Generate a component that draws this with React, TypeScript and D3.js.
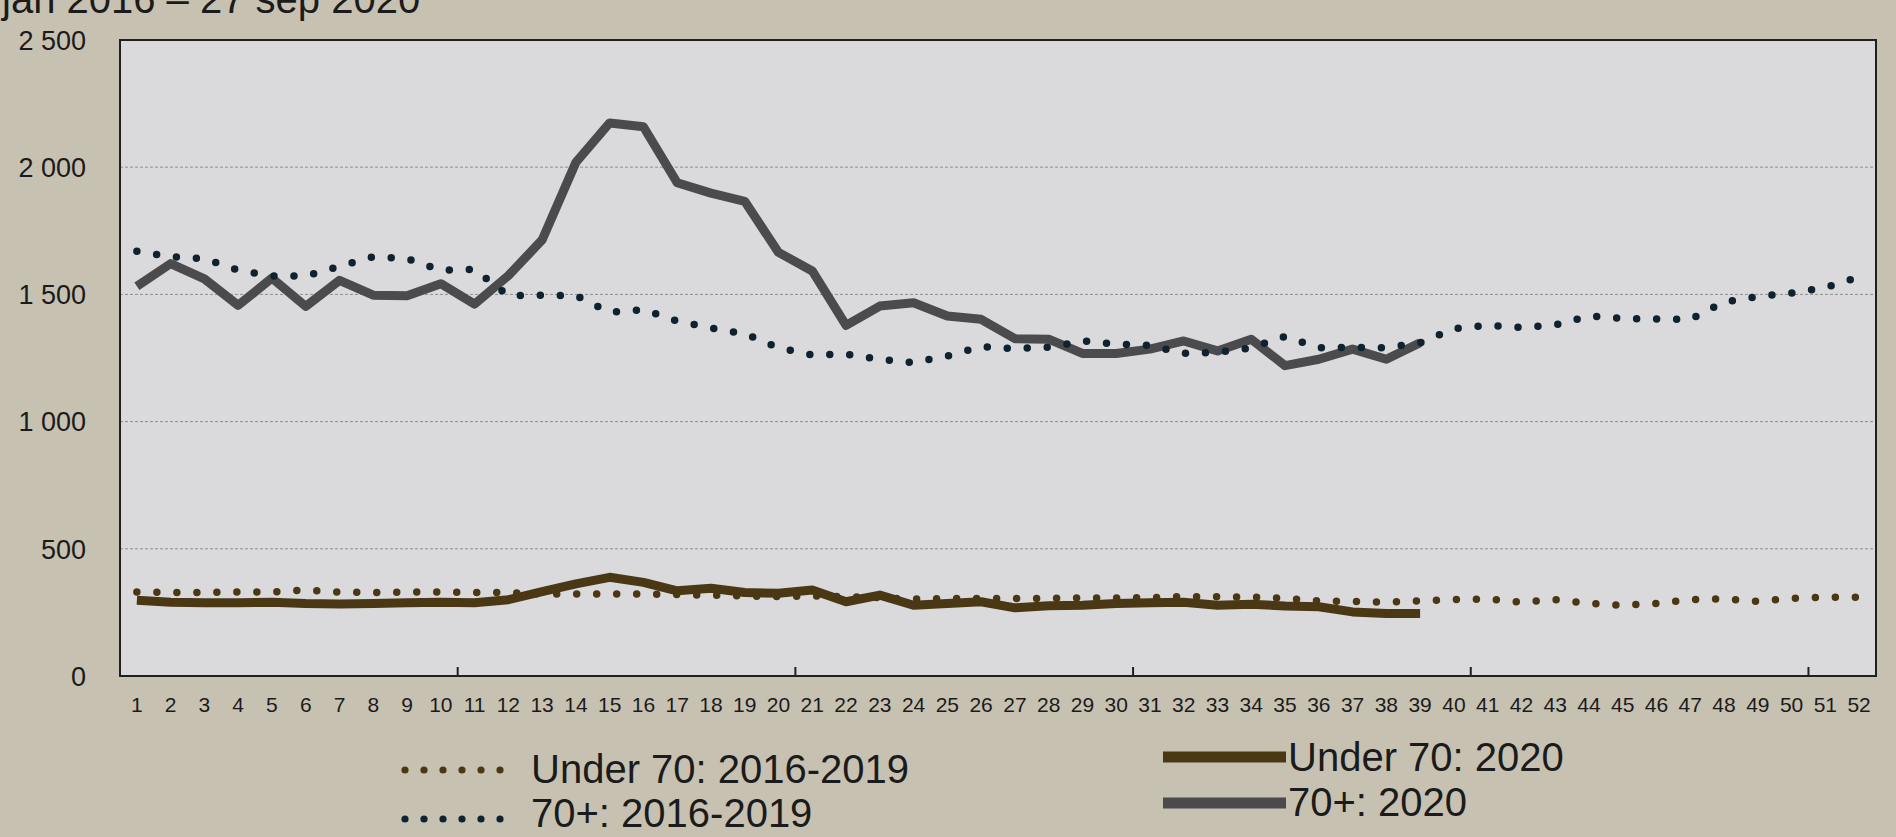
import React from "react";
import * as d3 from "d3";

// ---------- data (weekly deaths, weeks 1–52) ----------
const weeks = [
  1, 2, 3, 4, 5, 6, 7, 8, 9, 10, 11, 12, 13, 14, 15, 16, 17, 18, 19, 20, 21, 22, 23, 24, 25, 26,
  27, 28, 29, 30, 31, 32, 33, 34, 35, 36, 37, 38, 39, 40, 41, 42, 43, 44, 45, 46, 47, 48, 49, 50, 51, 52,
];

const under70Base = [
  330, 328, 328, 330, 330, 338, 330, 328, 330, 330, 328, 328, 322, 322, 322, 322, 320, 318, 315, 312, 315, 312, 308, 302, 305, 305,
  305, 305, 307, 307, 308, 312, 312, 310, 305, 295, 293, 290, 295, 300, 303, 290, 300, 285, 278, 285, 300, 303, 293, 305, 310, 310,
];

const over70Base = [
  1670, 1648, 1640, 1595, 1572, 1572, 1610, 1648, 1640, 1595, 1598, 1495, 1497, 1495, 1430, 1440, 1395, 1368, 1345, 1290, 1262, 1265, 1245, 1232, 1258, 1295,
  1287, 1292, 1317, 1304, 1300, 1268, 1272, 1290, 1335, 1290, 1292, 1290, 1310, 1365, 1378, 1370, 1380, 1415, 1405, 1403, 1402, 1470, 1492, 1505, 1527, 1568,
];

const under70_2020 = [
  298, 290, 288, 288, 290, 285, 283, 285, 288, 290, 288, 300, 332, 362, 388, 368, 335, 345, 328, 325, 338, 292, 318, 278, 285, 292,
  268, 276, 278, 285, 288, 290, 278, 282, 275, 272, 252, 246, 246,
];

const over70_2020 = [
  1532, 1621, 1561, 1457, 1564, 1453, 1555, 1497, 1495, 1542, 1462, 1574, 1714, 2019, 2174, 2159, 1939, 1898, 1866, 1665, 1592, 1378, 1454, 1467, 1415, 1402,
  1326, 1324, 1268, 1268, 1285, 1317, 1278, 1324, 1220, 1245, 1285, 1245, 1310,
];

const yTicks = [0, 500, 1000, 1500, 2000, 2500];
const yTickLabels = ["0", "500", "1 000", "1 500", "2 000", "2 500"];
const xTickBoundaries = [11, 21, 31, 41, 51];
const titleText = "jan 2016 – 27 sep 2020";
const legendLabels = ["Under 70: 2016-2019", "70+: 2016-2019", "Under 70: 2020", "70+: 2020"];

// ---------- layout ----------
const W = 1896;
const H = 837;
const M = { left: 120, right: 1876, top: 40, bottom: 676 };
const FONT = "'Liberation Sans', Arial, sans-serif";

const COL = {
  page: "#c7c1b2",
  plot: "#dadadc",
  grid: "#8e8e8e",
  frame: "#1f1f1f",
  text: "#1b1b1b",
  under70: "#4a3815",
  over70Dots: "#0f2230",
  over70Line: "#4b4b4d",
};

export default function App() {
  const x = d3.scaleBand<number>().domain(weeks).range([M.left, M.right]);
  const cx = (w: number) => (x(w) as number) + x.bandwidth() / 2;
  const y = d3.scaleLinear().domain([0, 2500]).range([M.bottom, M.top]);

  const line = d3
    .line<number>()
    .x((_, i) => cx(weeks[i]))
    .y((d) => y(d));

  const legendDots = [0, 1, 2, 3, 4, 5];

  return (
    <div style={{ position: "fixed", left: 0, top: 0, width: W, height: H }}>
      <svg width={W} height={H} viewBox={`0 0 ${W} ${H}`} style={{ display: "block", fontFamily: FONT }}>
        <rect x={0} y={0} width={W} height={H} fill={COL.page} />

        {/* title (its top is cut off in the photographed original) */}
        <text x={2} y={13} fontSize={40} fill={COL.text}>
          {titleText}
        </text>

        {/* plot background */}
        <rect x={M.left} y={M.top} width={M.right - M.left} height={M.bottom - M.top} fill={COL.plot} />

        {/* gridlines */}
        {yTicks
          .filter((t) => t > 0 && t < 2500)
          .map((t) => (
            <line
              key={t}
              x1={M.left}
              x2={M.right}
              y1={y(t)}
              y2={y(t)}
              stroke={COL.grid}
              strokeWidth={1}
              strokeDasharray="3 2"
            />
          ))}

        {/* y labels */}
        {yTicks.map((t, i) => (
          <text key={t} x={86} y={y(t)} dy="0.36em" textAnchor="end" fontSize={27} fill={COL.text}>
            {yTickLabels[i]}
          </text>
        ))}

        {/* series: solid 2020 lines */}
        <path d={line(over70_2020) || ""} fill="none" stroke={COL.over70Line} strokeWidth={9} strokeLinejoin="round" strokeLinecap="butt" />
        <path d={line(under70_2020) || ""} fill="none" stroke={COL.under70} strokeWidth={9} strokeLinejoin="round" strokeLinecap="butt" />

        {/* series: dotted 2016-2019 averages */}
        <path d={line(over70Base) || ""} fill="none" stroke={COL.over70Dots} strokeWidth={7.5} strokeLinecap="round" strokeDasharray="0 20" />
        <path d={line(under70Base) || ""} fill="none" stroke={COL.under70} strokeWidth={7.5} strokeLinecap="round" strokeDasharray="0 20" />

        {/* frame */}
        <rect x={M.left} y={M.top} width={M.right - M.left} height={M.bottom - M.top} fill="none" stroke={COL.frame} strokeWidth={2} />

        {/* x ticks every 10 weeks */}
        {xTickBoundaries.map((w) => (
          <line key={w} x1={x(w) as number} x2={x(w) as number} y1={M.bottom} y2={M.bottom - 9} stroke={COL.frame} strokeWidth={2} />
        ))}

        {/* x labels */}
        {weeks.map((w) => (
          <text key={w} x={cx(w)} y={M.bottom + 36} textAnchor="middle" fontSize={21} fill={COL.text}>
            {w}
          </text>
        ))}

        {/* legend */}
        <g>
          {legendDots.map((i) => (
            <circle key={"a" + i} cx={405 + i * 19} cy={770} r={3.6} fill={COL.under70} />
          ))}
          <text x={531} y={783} fontSize={40} fill={COL.text}>
            {legendLabels[0]}
          </text>
          {legendDots.map((i) => (
            <circle key={"b" + i} cx={405 + i * 19} cy={819} r={3.6} fill={COL.over70Dots} />
          ))}
          <text x={531} y={827} fontSize={40} fill={COL.text}>
            {legendLabels[1]}
          </text>

          <line x1={1163} x2={1286} y1={757} y2={757} stroke={COL.under70} strokeWidth={11} />
          <text x={1288} y={771} fontSize={40} fill={COL.text}>
            {legendLabels[2]}
          </text>
          <line x1={1163} x2={1286} y1={803} y2={803} stroke={COL.over70Line} strokeWidth={11} />
          <text x={1288} y={816} fontSize={40} fill={COL.text}>
            {legendLabels[3]}
          </text>
        </g>
      </svg>
    </div>
  );
}
